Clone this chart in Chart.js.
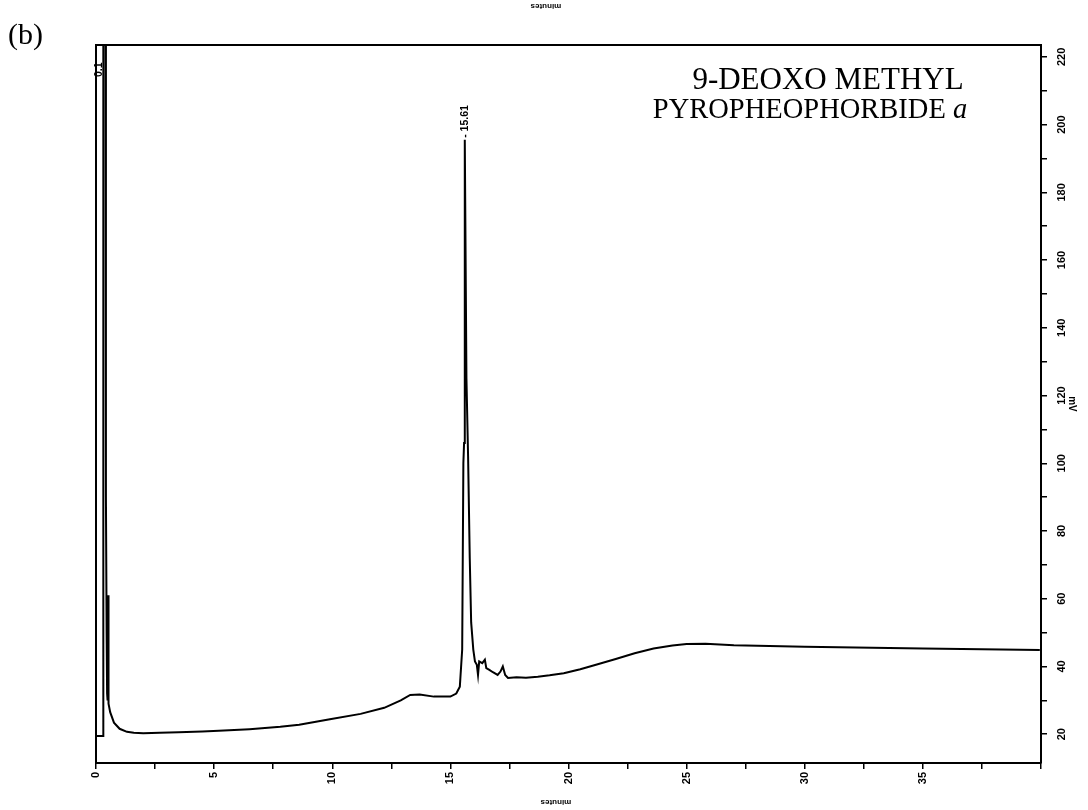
<!doctype html>
<html lang="en">
<head>
  <meta charset="utf-8">
  <title>9-deoxo methyl pyropheophorbide a</title>
  <style>
    body { margin: 0; background: #fff; }
    #wrap { position: relative; width: 1088px; height: 810px; }
  </style>
</head>
<body>
  <div id="wrap"><canvas id="myChart"></canvas></div>

  <script src="https://cdn.jsdelivr.net/npm/chart.js@4.4.1/dist/chart.umd.min.js"></script>
  <script>
  // retention time (minutes) and detector signal (mV)
  const minutes = [0.00, 0.30, 0.31, 0.40, 0.42, 0.45, 0.47, 0.49, 0.51, 0.53,
                   0.60, 0.76, 1.00, 1.31, 1.60, 2.00, 2.70, 3.50, 4.50, 5.20,
                   6.50, 7.80, 8.60, 9.90, 11.2, 12.2, 12.9, 13.3, 13.7, 14.3,
                   15.0, 15.25, 15.40, 15.50, 15.55, 15.58, 15.61, 15.68, 15.75, 15.82,
                   15.88, 15.97, 16.04, 16.12, 16.17, 16.22, 16.35, 16.46, 16.52, 16.65,
                   16.80, 17.00, 17.12, 17.22, 17.32, 17.44, 17.8, 18.2, 18.7, 19.2,
                   19.8, 20.5, 21.2, 22.0, 22.8, 23.6, 24.4, 25.0, 25.8, 27.0,
                   30.0, 35.0, 39.95];
  const signal  = [19.5, 19.5, 250, 250, 90, 50, 32, 30, 61, 29,
                   26.5, 23.4, 21.6, 20.7, 20.4, 20.3, 20.4, 20.6, 20.8, 21.0,
                   21.5, 22.2, 22.8, 24.4, 26.0, 27.8, 30.0, 31.6, 31.7, 31.1,
                   31.1, 32.0, 34.0, 45, 100, 106, 195.5, 125, 102, 72,
                   53, 45, 41.5, 40.5, 37.5, 41.5, 41.0, 42.0, 39.5, 39.0,
                   38.3, 37.5, 38.5, 40.0, 37.5, 36.6, 36.8, 36.7, 37.0, 37.4,
                   38.0, 39.2, 40.6, 42.2, 43.9, 45.3, 46.2, 46.6, 46.7, 46.3,
                   45.8, 45.3, 44.9];

  const xLabels = [0, 5, 10, 15, 20, 25, 30, 35];
  const yLabels = [20, 40, 60, 80, 100, 120, 140, 160, 180, 200, 220];
  const peakLabels = [{ t: 15.61, v: 195.5, text: '- 15.61' }, { t: 0.13, v: null, text: '0.1' }];

  const xMinor = [];
  for (let t = 0; t <= 40; t += 2.5) xMinor.push(t);
  const yMinor = [];
  for (let v = 20; v <= 220; v += 10) yMinor.push(v);

  const points = minutes.map((t, i) => ({ x: t, y: signal[i] }));

  const decor = {
    id: 'decor',
    afterDraw(chart) {
      const ctx = chart.ctx;
      const a = chart.chartArea;
      const xs = chart.scales.x, ys = chart.scales.y;
      ctx.save();
      ctx.fillStyle = '#000';

      // panel letter
      ctx.font = '30px "Liberation Serif"';
      ctx.textAlign = 'left';
      ctx.textBaseline = 'alphabetic';
      ctx.fillText('(b)', 8, 44);

      // compound name
      ctx.font = '31px "Liberation Serif"';
      ctx.textAlign = 'center';
      ctx.fillText('9-DEOXO METHYL', 828, 89);
      const main = 'PYROPHEOPHORBIDE ';
      ctx.textAlign = 'left';
      ctx.font = '28.5px "Liberation Serif"';
      const w1 = ctx.measureText(main).width;
      ctx.font = 'italic 28.5px "Liberation Serif"';
      const w2 = ctx.measureText('a').width;
      const x0 = 810 - (w1 + w2) / 2;
      ctx.font = '28.5px "Liberation Serif"';
      ctx.fillText(main, x0, 118);
      ctx.font = 'italic 28.5px "Liberation Serif"';
      ctx.fillText('a', x0 + w1, 118);

      // peak retention labels
      ctx.font = 'bold 10.5px "Liberation Sans"';
      ctx.textBaseline = 'middle';
      peakLabels.forEach(p => {
        const px = xs.getPixelForValue(p.t);
        const py = p.v === null ? a.top + 32 : ys.getPixelForValue(p.v) - 2;
        ctx.save();
        ctx.translate(px, py);
        ctx.rotate(-Math.PI / 2);
        ctx.textAlign = 'left';
        ctx.fillText(p.text, 0, 0);
        ctx.restore();
      });

      // axis titles, printed upside down as in the scan
      ctx.font = 'bold 8px "Liberation Sans"';
      ctx.textAlign = 'center';
      [[546, 6], [556, 802]].forEach(([cx, cy]) => {
        ctx.save();
        ctx.translate(cx, cy);
        ctx.rotate(Math.PI);
        ctx.fillText('minutes', 0, 0);
        ctx.restore();
      });
      ctx.restore();
    }
  };

  new Chart(document.getElementById('myChart').getContext('2d'), {
    type: 'line',
    data: {
      datasets: [{
        data: points,
        borderColor: '#000',
        borderWidth: 2,
        pointRadius: 0,
        tension: 0,
        fill: false
      }]
    },
    options: {
      responsive: true,
      maintainAspectRatio: false,
      animation: false,
      layout: { padding: { left: 96, top: 45, right: 0, bottom: 0 } },
      plugins: { legend: { display: false }, tooltip: { enabled: false } },
      scales: {
        x: {
          type: 'linear',
          position: 'bottom',
          min: 0,
          max: 40,
          afterBuildTicks: s => { s.ticks = xMinor.map(v => ({ value: v })); },
          afterFit: s => { s.height = 47; },
          ticks: {
            autoSkip: false,
            minRotation: 90,
            maxRotation: 90,
            padding: 3,
            color: '#000',
            font: { family: 'Liberation Sans', size: 11, weight: 'bold' },
            callback: v => xLabels.includes(v) ? String(v) : ''
          },
          grid: { drawOnChartArea: false, drawTicks: true, tickLength: 6, color: '#000', lineWidth: 1.5 },
          border: { display: true, color: '#000', width: 2 }
        },
        xTop: {
          type: 'linear',
          position: 'top',
          min: 0,
          max: 40,
          afterFit: s => { s.height = 0; },
          ticks: { display: false },
          grid: { display: false },
          border: { display: true, color: '#000', width: 2 }
        },
        y: {
          type: 'linear',
          position: 'right',
          min: 11.5,
          max: 223.5,
          afterBuildTicks: s => { s.ticks = yMinor.map(v => ({ value: v })); },
          afterFit: s => { s.width = 47; },
          ticks: {
            autoSkip: false,
            minRotation: 90,
            maxRotation: 90,
            crossAlign: 'center',
            padding: 6,
            color: '#000',
            font: { family: 'Liberation Sans', size: 11, weight: 'bold' },
            callback: v => yLabels.includes(v) ? String(v) : ''
          },
          title: {
            display: true,
            text: 'mV',
            color: '#000',
            padding: { top: 10, bottom: 0 },
            font: { family: 'Liberation Sans', size: 10, weight: 'bold' }
          },
          grid: { drawOnChartArea: false, drawTicks: true, tickLength: 6, color: '#000', lineWidth: 1.5 },
          border: { display: true, color: '#000', width: 2 }
        },
        yLeft: {
          type: 'linear',
          position: 'left',
          afterFit: s => { s.width = 0; },
          ticks: { display: false },
          grid: { display: false },
          border: { display: true, color: '#000', width: 2 }
        }
      }
    },
    plugins: [decor]
  });
  </script>
</body>
</html>
